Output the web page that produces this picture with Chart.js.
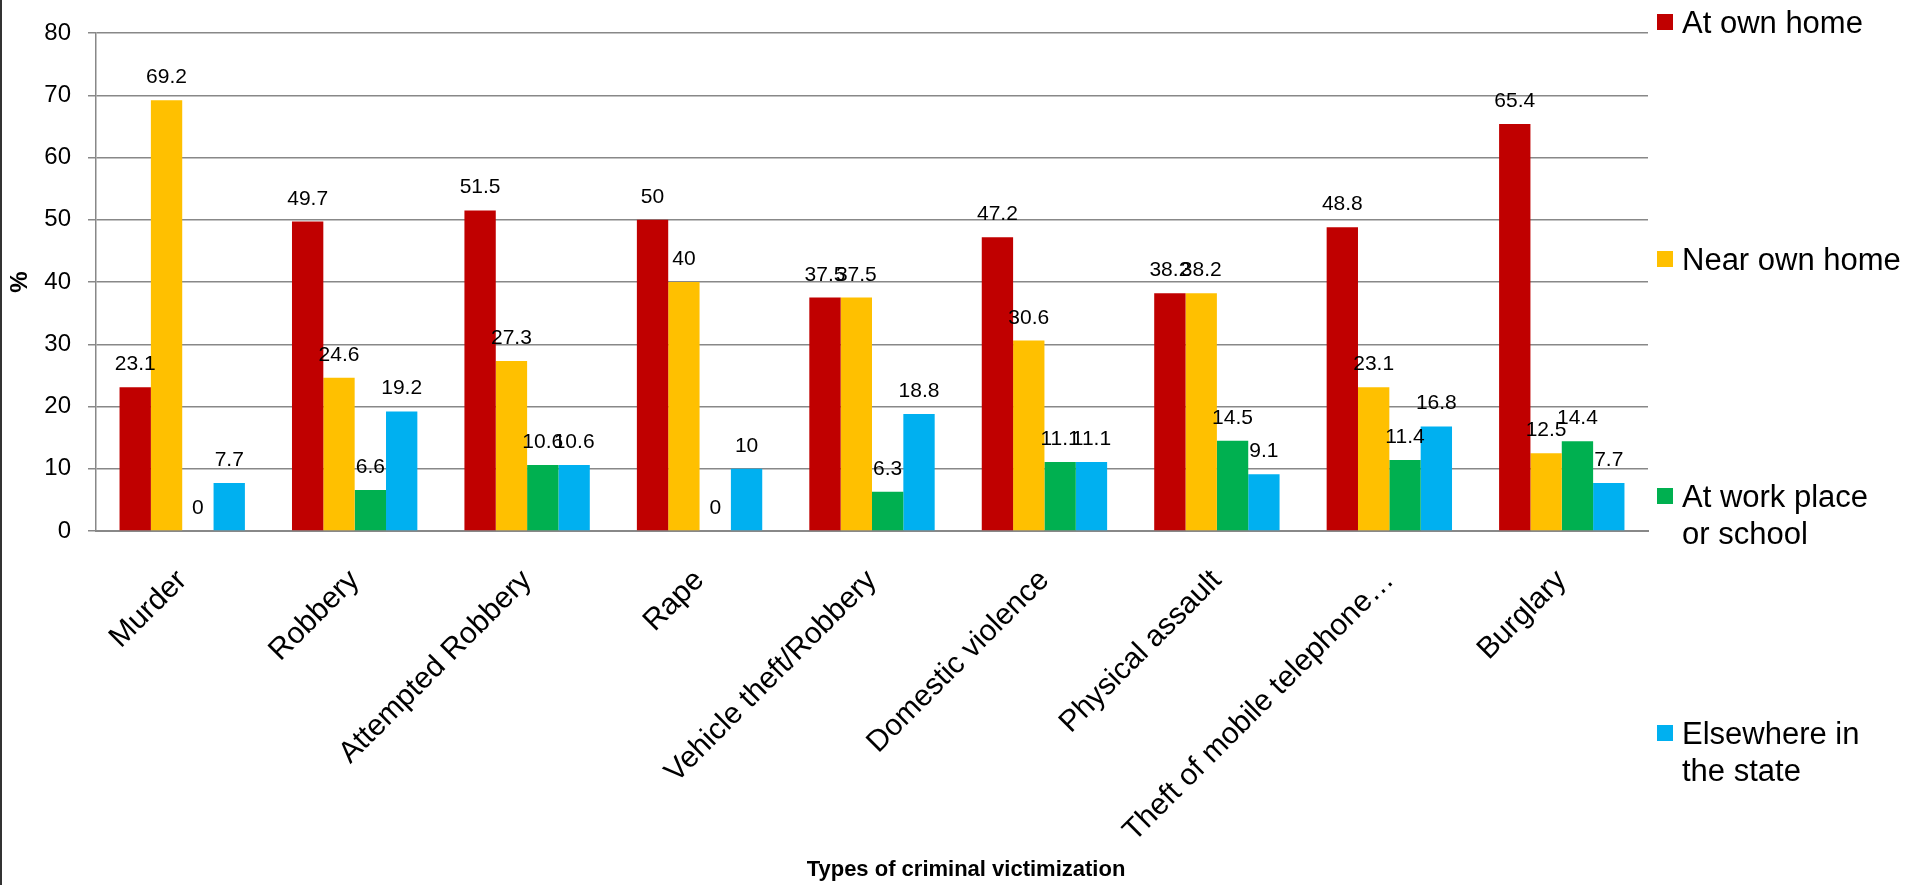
<!DOCTYPE html>
<html>
<head>
<meta charset="utf-8">
<script src="https://cdn.jsdelivr.net/npm/chart.js@4.4.1/dist/chart.umd.min.js"></script>
<style>
    html, body { margin: 0; padding: 0; background: #fff; }
    #wrap { position: relative; width: 1915px; height: 885px; overflow: hidden; }
    #edge { position: absolute; left: 0; top: 0; width: 2px; height: 885px; background: #333; }
    #legend { position: absolute; left: 1657px; top: 4px; font-family: "Liberation Sans", Arial, sans-serif; font-size: 31px; color: #000; }
    #legend .item { position: relative; height: 237px; padding-left: 25px; width: 240px; line-height: 37px; white-space: nowrap; }
    #legend .box { position: absolute; left: 0; top: 10px; width: 16px; height: 16px; }
    #xtitle { position: absolute; left: 0; width: 1932px; top: 858px; line-height: 22px; text-align: center;
              font-family: "Liberation Sans", Arial, sans-serif; font-size: 22px; font-weight: bold; color: #000; }
</style>
</head>
<body>
<div id="wrap">
    <canvas id="chart" width="1915" height="885"></canvas>
    <div id="edge"></div>
    <div id="legend"></div>
    <div id="xtitle">Types of criminal victimization</div>
</div>
<script>
const categories = ['Murder', 'Robbery', 'Attempted Robbery', 'Rape', 'Vehicle theft/Robbery',
    'Domestic violence', 'Physical assault', 'Theft of mobile telephone…', 'Burglary'];
const atOwnHome = [23.1, 49.7, 51.5, 50, 37.5, 47.2, 38.2, 48.8, 65.4];
const nearOwnHome = [69.2, 24.6, 27.3, 40, 37.5, 30.6, 38.2, 23.1, 12.5];
const atWorkOrSchool = [0, 6.6, 10.6, 0, 6.3, 11.1, 14.5, 11.4, 14.4];
const elsewhereInState = [7.7, 19.2, 10.6, 10, 18.8, 11.1, 9.1, 16.8, 7.7];
const seriesNames = ['At own home', 'Near own home', 'At work place or school', 'Elsewhere in the state'];
// how the legend wraps in the original
const legendLines = [['At own home'], ['Near own home'], ['At work place', 'or school'], ['Elsewhere in', 'the state']];
const seriesColors = ['#C00000', '#FFC000', '#00B050', '#00B0F0'];

const FONT = '"Liberation Sans", Arial, sans-serif';

// value labels above each bar
const valueLabels = {
    id: 'valueLabels',
    afterDatasetsDraw(chart) {
        const ctx = chart.ctx;
        ctx.save();
        ctx.font = '21px ' + FONT;
        ctx.fillStyle = '#000';
        ctx.textAlign = 'center';
        ctx.textBaseline = 'alphabetic';
        chart.data.datasets.forEach((ds, i) => {
            chart.getDatasetMeta(i).data.forEach((bar, j) => {
                ctx.fillText(String(ds.data[j]), bar.x, bar.y - 17);
            });
        });
        ctx.restore();
    }
};

const seriesData = [atOwnHome, nearOwnHome, atWorkOrSchool, elsewhereInState];

const chart = new Chart(document.getElementById('chart').getContext('2d'), {
    type: 'bar',
    data: {
        labels: categories,
        datasets: seriesData.map((d, i) => ({
            label: seriesNames[i],
            data: d,
            backgroundColor: seriesColors[i],
            borderWidth: 0,
            barPercentage: 1,
            categoryPercentage: 0.727
        }))
    },
    options: {
        responsive: false,
        animation: false,
        layout: { padding: { top: 33, right: 267, left: 0, bottom: 0 } },
        plugins: {
            legend: { display: false },
            tooltip: { enabled: false }
        },
        scales: {
            x: {
                grid: { display: false },
                border: { color: '#888', width: 2 },
                ticks: {
                    color: '#000',
                    font: { family: FONT, size: 30 },
                    minRotation: 45,
                    maxRotation: 45,
                    autoSkip: false,
                    padding: 24
                },
                afterFit(scale) { scale.height = 354; }
            },
            y: {
                min: 0,
                max: 80,
                ticks: {
                    stepSize: 10,
                    color: '#000',
                    font: { family: FONT, size: 24 },
                    padding: 17
                },
                grid: { color: '#888', lineWidth: 1.5, tickLength: 8 },
                border: { color: '#888', width: 1.5 },
                title: {
                    display: true,
                    text: '%',
                    color: '#000',
                    font: { family: FONT, size: 24, weight: 'bold' },
                    padding: { top: 6, bottom: 0 }
                },
                afterFit(scale) { scale.width = 96; }
            }
        }
    },
    plugins: [valueLabels]
});

// legend spread down the right side, as in the original
const legend = document.getElementById('legend');
chart.data.datasets.forEach((ds, i) => {
    const item = document.createElement('div');
    item.className = 'item';
    const box = document.createElement('span');
    box.className = 'box';
    box.style.background = ds.backgroundColor;
    item.appendChild(box);
    legendLines[i].forEach((line, k) => {
        if (k > 0) item.appendChild(document.createElement('br'));
        item.appendChild(document.createTextNode(line));
    });
    legend.appendChild(item);
});
</script>
</body>
</html>
